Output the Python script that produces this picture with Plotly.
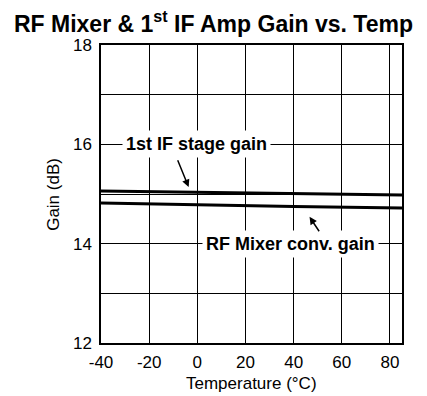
import plotly.graph_objects as go

temperature = [-40, 0, 40, 85]
if_gain = [15.06, 15.03, 15.00, 14.98]
rf_gain = [14.82, 14.78, 14.75, 14.72]

x_ticks = [-40, -20, 0, 20, 40, 60, 80]
x_tick_labels = ["-40", "-20", "0", "20", "40", "60", "80"]
y_ticks = [12, 14, 16, 18]
y_tick_labels = ["12", "14", "16", "18"]

FONT = "Liberation Sans, Arial, sans-serif"

fig = go.Figure()
fig.add_trace(go.Scatter(x=temperature, y=if_gain, mode="lines",
                         line=dict(color="black", width=3), name="1st IF stage gain"))
fig.add_trace(go.Scatter(x=temperature, y=rf_gain, mode="lines",
                         line=dict(color="black", width=3), name="RF Mixer conv. gain"))

fig.add_annotation(x=-0.3, y=16, text="<b>1st IF stage gain</b>", showarrow=False,
                   bgcolor="white", borderpad=3, font=dict(size=18, color="black", family=FONT))
fig.add_annotation(x=38.5, y=14, text="<b>RF Mixer conv. gain</b>", showarrow=False,
                   bgcolor="white", borderpad=3, font=dict(size=18, color="black", family=FONT))
fig.add_annotation(x=-3.6, y=15.14, ax=-8.4, ay=15.71, axref="x", ayref="y",
                   text="", showarrow=True, arrowhead=2, arrowsize=1, arrowwidth=1.5,
                   arrowcolor="black")
fig.add_annotation(x=46.6, y=14.54, ax=51.0, ay=14.22, axref="x", ayref="y",
                   text="", showarrow=True, arrowhead=2, arrowsize=1, arrowwidth=1.5,
                   arrowcolor="black")

# axis titles
fig.add_annotation(x=0.5, y=-0.135, xref="paper", yref="paper", text="Temperature (°C)",
                   showarrow=False, xanchor="center", yanchor="middle",
                   font=dict(size=17, color="black", family=FONT))
fig.add_annotation(x=-0.16, y=0.5, xref="paper", yref="paper", text="Gain (dB)",
                   showarrow=False, xanchor="center", yanchor="middle", textangle=-90,
                   font=dict(size=17, color="black", family=FONT))

fig.update_layout(
    width=427, height=396,
    margin=dict(l=101, r=25, t=45, b=53),
    paper_bgcolor="white", plot_bgcolor="white",
    showlegend=False,
    font=dict(family=FONT, color="black", size=17),
    title=dict(text="<b>RF Mixer &amp; 1<sup>st</sup> IF Amp Gain vs. Temp</b>",
               x=0.5, xanchor="center", y=0.94, yanchor="middle",
               font=dict(size=23, family=FONT, color="black")),
    xaxis=dict(range=[-40, 85], tickvals=x_ticks, ticktext=x_tick_labels,
               showgrid=True, gridcolor="black",
               gridwidth=1, showline=True, linecolor="black", linewidth=1.5, mirror=True,
               zeroline=False, ticks="outside", ticklen=3, tickcolor="white",
               tickfont=dict(size=17)),
    yaxis=dict(range=[12, 18], tickvals=y_ticks, ticktext=y_tick_labels,
               showgrid=True, gridcolor="black",
               gridwidth=1, showline=True, linecolor="black", linewidth=1.5, mirror=True,
               zeroline=False, ticks="outside", ticklen=4, tickcolor="white",
               tickfont=dict(size=17),
               minor=dict(dtick=1, tick0=12, showgrid=True, gridcolor="black", gridwidth=1)),
)

fig.write_html("out.html")
